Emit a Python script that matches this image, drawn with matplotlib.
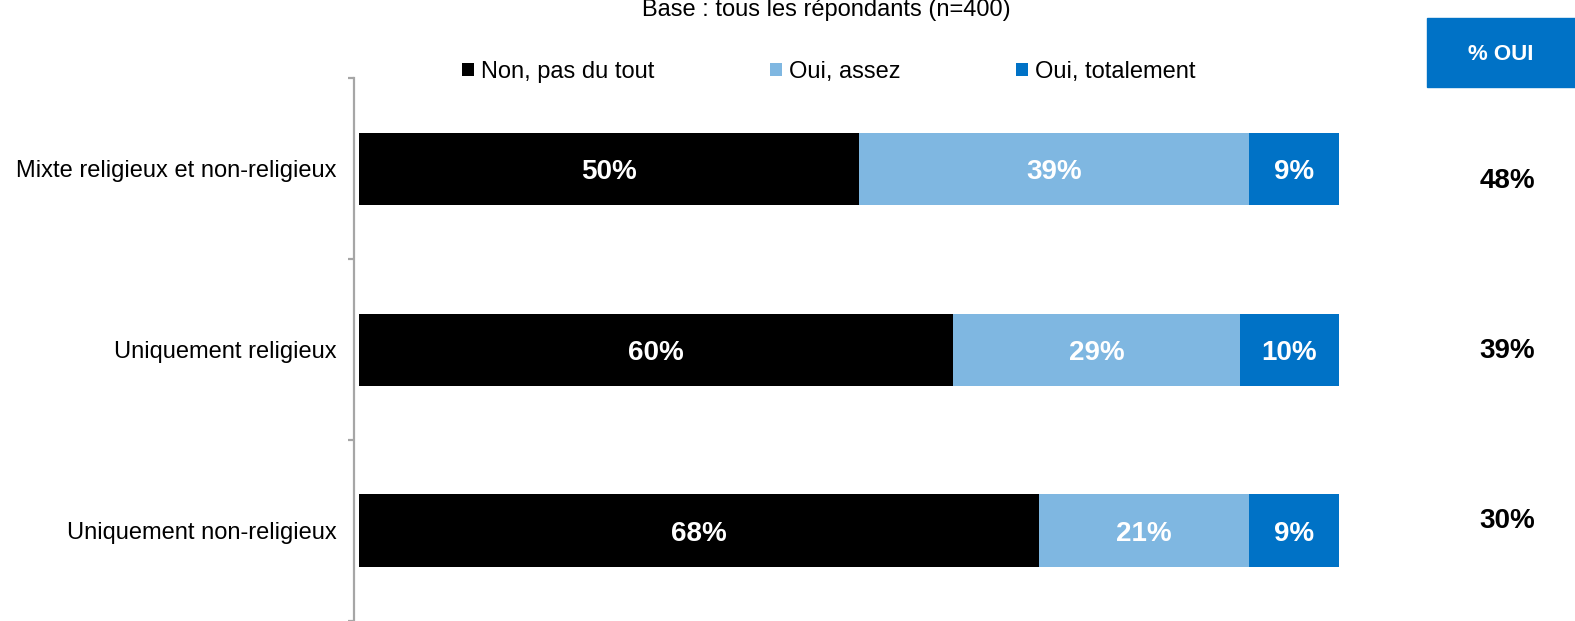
import matplotlib.pyplot as plt
from matplotlib.patches import Rectangle
import numpy as np

plt.rcParams['font.family'] = ['Liberation Sans', 'DejaVu Sans']

# data
categories = ["Mixte religieux et non-religieux", "Uniquement religieux", "Uniquement non-religieux"]
series_names = ["Non, pas du tout", "Oui, assez", "Oui, totalement"]
non_pas_du_tout = [50, 60, 68]
oui_assez = [39, 29, 21]
oui_totalement = [9, 10, 9]
pct_oui = [48, 39, 30]
title_text = "Base : tous les répondants (n=400)"
box_text = "% OUI"

colors = ["#000000", "#7FB7E1", "#0072C6"]
W, H = 1575, 621

fig = plt.figure(figsize=(W / 100, H / 100), dpi=100)
ax = fig.add_axes([354 / W, 0.0, (1339 - 354) / W, 1 - 78.4 / H])

values = np.array([non_pas_du_tout, oui_assez, oui_totalement], dtype=float)
# the bars are shown as shares of what was answered (all rows fill the width)
shares = values / values.sum(axis=0) * 100
y = np.arange(len(categories))
left = np.zeros(len(categories))
for i, name in enumerate(series_names):
    bars = ax.barh(y, shares[i], left=left, height=0.40, color=colors[i],
                   label=name, edgecolor='none')
    for j, b in enumerate(bars):
        cx = left[j] + shares[i][j] / 2
        ax.text(cx, y[j], f"{values[i][j]:.0f}%", ha='center', va='center_baseline',
                color='white', fontsize=20, fontweight='bold')
    left += shares[i]

ax.set_xlim(-0.47, 100)
ax.set_ylim(len(categories) - 0.5, -0.5)

for s in ['top', 'right', 'bottom']:
    ax.spines[s].set_visible(False)
ax.spines['left'].set_color('#A6A6A6')
ax.spines['left'].set_linewidth(1.6)
ax.set_xticks([])
# boundary ticks as in the original, labels on minor ticks at bar centres
ax.set_yticks(np.arange(len(categories) + 1) - 0.5)
ax.set_yticklabels([])
ax.tick_params(axis='y', which='major', length=4.5, width=1.6, color='#A6A6A6', direction='out')
ax.set_yticks(y, minor=True)
ax.set_yticklabels(categories, minor=True, fontsize=17)
ax.tick_params(axis='y', which='minor', length=0, pad=12.6)
for t in ax.get_yticklabels(minor=True):
    t.set_verticalalignment('center_baseline')

# title (cut at top of the image, as in the original)
fig.text(826 / W, 1 - 16 / H, title_text, ha='center', va='baseline', fontsize=17)

leg = fig.legend(loc='center', bbox_to_anchor=(829 / W, 1 - 72 / H), ncol=3,
                 frameon=False, fontsize=17, handlelength=0.5, handleheight=0.5,
                 handletextpad=0.3, columnspacing=4.9)

# "% OUI" box and totals column
fig.patches.append(Rectangle((1427 / W, 1 - 87 / H), (W - 1427) / W, 69 / H,
                             transform=fig.transFigure, color=colors[2], zorder=0))
fig.text(1501 / W, 1 - 52 / H, box_text, ha='center', va='center_baseline', color='white',
         fontsize=16, fontweight='bold')
for k, v in enumerate(pct_oui):
    fig.text(1507 / W, 1 - (178 + 170 * k) / H, f"{v}%", ha='center', va='center_baseline',
             fontsize=20, fontweight='bold')

fig.savefig("out.png", dpi=100)
